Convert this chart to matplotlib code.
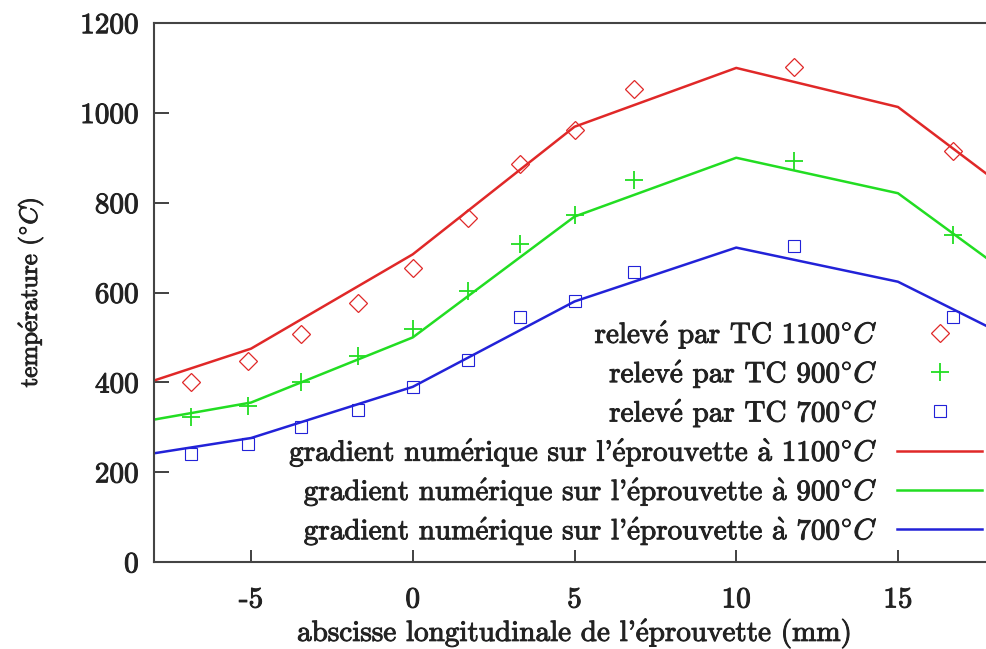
import matplotlib
matplotlib.use("Agg")
import matplotlib.pyplot as plt
import matplotlib.patheffects as pe

plt.rcParams['font.family'] = ['cmr10', 'DejaVu Serif']
plt.rcParams['mathtext.fontset'] = 'cm'
plt.rcParams['axes.unicode_minus'] = False
plt.rcParams['axes.formatter.use_mathtext'] = True

# Thermocouple readings (mm, °C)
tc_x = [-6.85, -5.1, -3.45, -1.7, 0.0, 1.7, 3.3, 5.0, 6.85, 11.8, 16.7]
tc_1100 = [401, 448, 508, 577, 655, 766, 886, 962, 1053, 1101, 914]
tc_900 = [323, 348, 401, 458, 518, 603, 708, 773, 851, 893, 729]
tc_700 = [241, 262, 300, 339, 390, 450, 546, 580, 646, 704, 546]

# Numerical temperature gradient along the specimen
num_x = [-8, -5, 0, 5, 10, 15, 18]
num_1100 = [404, 475, 685, 969, 1100, 1013, 850]
num_900 = [317, 355, 500, 769, 900, 821, 663]
num_700 = [242, 276, 390, 580, 700, 624, 516]

x_ticks = [-5, 0, 5, 10, 15]
x_tick_labels = ['-5', '0', '5', '10', '15']
y_ticks = [0, 200, 400, 600, 800, 1000, 1200]
y_tick_labels = ['0', '200', '400', '600', '800', '1000', '1200']

E = r'$\acute{\mathrm{e}}$'
A = r'$\grave{\mathrm{a}}$'
DEG = r'$^{\circ}C$'
labels_tc = ['relev' + E + ' par TC 1100' + DEG,
             'relev' + E + ' par TC 900' + DEG,
             'relev' + E + ' par TC 700' + DEG]
labels_num = ['gradient num' + E + "rique sur l'" + E + 'prouvette ' + A + ' 1100' + DEG,
              'gradient num' + E + "rique sur l'" + E + 'prouvette ' + A + ' 900' + DEG,
              'gradient num' + E + "rique sur l'" + E + 'prouvette ' + A + ' 700' + DEG]
xlabel = "abscisse longitudinale de l'" + E + 'prouvette (mm)'
ylabel = 'temp' + E + 'rature (' + DEG + ')'

RED, GREEN, BLUE = '#e02828', '#22dd22', '#2222d8'
INK = '#222222'
bold = [pe.withStroke(linewidth=0.7, foreground=INK)]

fig = plt.figure(figsize=(9.86, 6.49), dpi=100)
ax = fig.add_axes([154 / 986, 87 / 649, 841 / 986, 539 / 649])

h1, = ax.plot(tc_x, tc_1100, linestyle='none', marker='D', ms=9, mfc='none',
              mec=RED, mew=0.9)
h2, = ax.plot(tc_x, tc_900, linestyle='none', marker='+', ms=13, mec=GREEN, mew=1.3)
h3, = ax.plot(tc_x, tc_700, linestyle='none', marker='s', ms=9, mfc='none',
              mec=BLUE, mew=0.8)
l1, = ax.plot(num_x, num_1100, color=RED, lw=1.8)
l2, = ax.plot(num_x, num_900, color=GREEN, lw=1.8)
l3, = ax.plot(num_x, num_700, color=BLUE, lw=1.8)

ax.set_xlim(-8, 18)
ax.set_ylim(0, 1200)
ax.set_xticks(x_ticks)
ax.set_xticklabels(x_tick_labels)
ax.set_yticks(y_ticks)
ax.set_yticklabels(y_tick_labels)
ax.tick_params(direction='in', width=1.3, labelsize=21, color='#333333',
               labelcolor=INK)
ax.tick_params(axis='x', length=9, pad=18)
ax.tick_params(axis='y', length=11, pad=11)
for t in ax.get_xticklabels() + ax.get_yticklabels():
    t.set_path_effects(bold)
for s in ax.spines.values():
    s.set_linewidth(1.5)
    s.set_color('#444444')

ax.set_xlabel(xlabel, fontsize=21, color=INK, path_effects=bold, va='center')
ax.xaxis.set_label_coords((574 - 154) / 841, -(633 - 562) / 539)
ax.set_ylabel(ylabel, fontsize=18, color=INK, path_effects=bold, va='center')
ax.yaxis.set_label_coords(-(154 - 31) / 841, 0.5)

leg = ax.legend([h1, h2, h3, l1, l2, l3], labels_tc + labels_num,
                loc='center right', bbox_to_anchor=(0.9845, 0.240),
                frameon=False, markerfirst=False, fontsize=21,
                handlelength=2.9, handletextpad=0.68, labelspacing=0.21,
                borderpad=0, borderaxespad=0)
for t in leg.get_texts():
    t.set_color(INK)
    t.set_path_effects(bold)

fig.savefig('out.png', dpi=100)
